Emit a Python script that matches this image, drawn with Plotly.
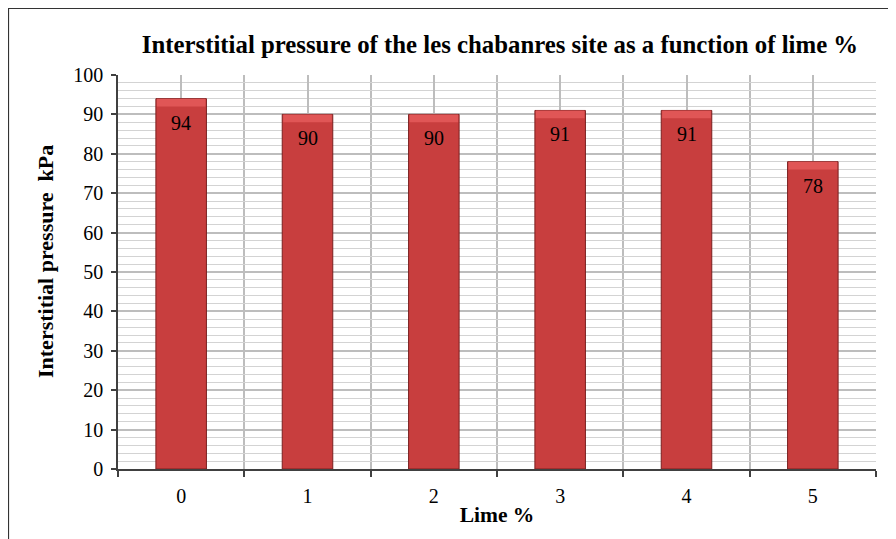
import plotly.graph_objects as go

lime = [0, 1, 2, 3, 4, 5]
pressure = [94, 90, 90, 91, 91, 78]
labels = [str(v) for v in pressure]

title = "Interstitial pressure of the les chabanres site as a function of lime %"
xtitle = "Lime %"
ytitle = "Interstitial pressure  kPa"

FONT = "Liberation Serif"

# page body has an 8px margin; layout values are in figure coordinates
L, T, R, B = 110, 67, 28, 78
W, H = 896, 539
PW, PH = W - L - R, H - T - B

fig = go.Figure()
fig.add_trace(go.Bar(
    x=lime, y=pressure, width=0.4,
    marker=dict(color="#C83E3E", line=dict(color="#7A1F1F", width=1)),
    showlegend=False, hoverinfo="x+y",
))
# light bevel at bar tops
fig.add_trace(go.Bar(
    x=lime, y=[2.0] * len(pressure), base=[v - 2.0 for v in pressure], width=0.385,
    marker=dict(color="#E05656", line=dict(width=0)),
    showlegend=False, hoverinfo="skip",
))
for xv, yv, t in zip(lime, pressure, labels):
    fig.add_annotation(x=xv, y=yv, text=t, showarrow=False, yshift=-24,
                       font=dict(family=FONT, size=20, color="black"))

# y-axis title as a rotated annotation (placed to match the reference)
fig.add_annotation(xref="paper", yref="paper", x=(37 - L) / PW, y=(H - B - 254) / PH,
                   text="<b>" + ytitle + "</b>", textangle=-90, showarrow=False,
                   xanchor="center", yanchor="middle",
                   font=dict(family=FONT, size=22, color="black"))

fig.update_layout(
    width=W, height=H,
    margin=dict(l=L, r=R, t=T, b=B, autoexpand=False),
    paper_bgcolor="white", plot_bgcolor="white",
    barmode="overlay",
    title=dict(text="<b>" + title + "</b>", x=(500 - 8) / W, xanchor="center",
               y=1 - (44 - 8) / H, yanchor="middle",
               font=dict(family=FONT, size=24.8, color="black")),
    font=dict(family=FONT, size=20, color="black"),
    xaxis=dict(
        range=[-0.5, 5.5], tickvals=lime, ticktext=[str(c) for c in lime],
        showgrid=True, gridcolor="#BDBDBD", gridwidth=1.5,
        ticks="", showline=True, linecolor="#404040", linewidth=1.5,
        minor=dict(tick0=-0.5, dtick=1, ticks="outside", ticklen=6, tickcolor="#404040",
                   tickwidth=1.5, showgrid=True, gridcolor="#BDBDBD", gridwidth=1.5),
        ticklabelstandoff=8,
        title=dict(text="<b>" + xtitle + "</b>", standoff=1, font=dict(family=FONT, size=21.5)),
        zeroline=False, tickfont=dict(family=FONT, size=20), automargin=False,
    ),
    yaxis=dict(
        range=[0, 100], dtick=10, showgrid=True, gridcolor="#BDBDBD", gridwidth=1.5,
        ticks="outside", ticklen=5, tickcolor="#404040", tickwidth=1.5,
        showline=True, linecolor="#404040", linewidth=1.5,
        minor=dict(dtick=2, showgrid=True, gridcolor="#D3D3D3", gridwidth=1),
        ticklabelstandoff=4,
        zeroline=False, tickfont=dict(family=FONT, size=20), automargin=False,
    ),
)

# chart-area border at the figure edge (top and left visible)
fig.add_shape(type="rect", xref="paper", yref="paper",
              x0=-(L - 0.5) / PW, x1=1.5, y0=-0.5, y1=1 + (T - 0.5) / PH,
              line=dict(color="#333333", width=1.2), fillcolor="rgba(0,0,0,0)", layer="below")

fig.write_html("out.html")
